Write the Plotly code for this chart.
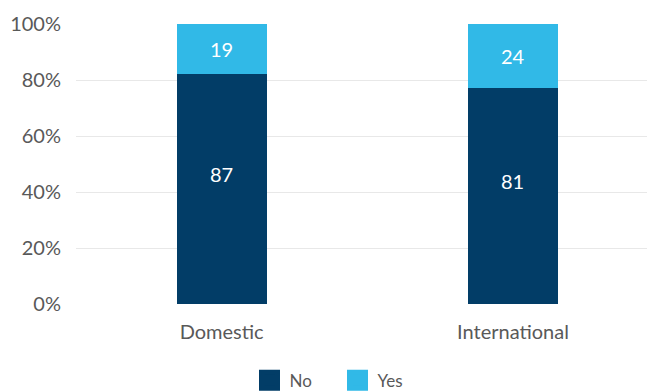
import plotly.graph_objects as go

categories = ["Domestic", "International"]
no_values = [87, 81]
yes_values = [19, 24]
y_ticks = [0, 20, 40, 60, 80, 100]
y_tick_labels = ["0%", "20%", "40%", "60%", "80%", "100%"]

NAVY = "#023d67"
SKY = "#31b9e7"
FONT = "Source Sans Pro, Lato, Noto Sans, sans-serif"

fig = go.Figure()
for name, vals, color in [("No", no_values, NAVY), ("Yes", yes_values, SKY)]:
    fig.add_trace(go.Bar(
        x=categories, y=vals, name=name, marker=dict(color=color, line=dict(width=0)),
        width=0.31, showlegend=False,
    ))
    # legend entries drawn as large squares
    fig.add_trace(go.Scatter(
        x=[None], y=[None], mode="markers", name=name,
        marker=dict(symbol="square", size=16, color=color, line=dict(color=color, width=5)),
    ))

# value labels placed inside each stacked segment (percent scale)
for i, cat in enumerate(categories):
    total = no_values[i] + yes_values[i]
    no_pct = no_values[i] / total * 100
    yes_pct = yes_values[i] / total * 100
    fig.add_annotation(x=cat, y=no_pct / 2, text=str(no_values[i]), showarrow=False,
                       yshift=15, font=dict(color="white", size=20, family=FONT))
    fig.add_annotation(x=cat, y=no_pct + yes_pct / 2, text=str(yes_values[i]), showarrow=False,
                       font=dict(color="white", size=20, family=FONT))

fig.update_layout(
    width=647, height=392,
    margin=dict(l=76, r=0, t=24, b=88, autoexpand=False),
    barmode="stack", barnorm="percent",
    plot_bgcolor="white", paper_bgcolor="white",
    font=dict(family=FONT, color="#595959"),
    xaxis=dict(range=[-0.5, 1.46], showgrid=False, showline=False, ticks="",
               tickfont=dict(size=20, color="#595959"), ticklabelstandoff=14),
    yaxis=dict(range=[0, 100], tickvals=y_ticks, ticktext=y_tick_labels,
               showgrid=True, gridcolor="#e8e8e8", gridwidth=1, zeroline=False,
               showline=False, ticks="", tickfont=dict(size=20, color="#595959"),
               ticklabelstandoff=14),
    legend=dict(orientation="h", x=0.458, xanchor="center", y=-0.21, yanchor="top",
                traceorder="normal",
                font=dict(size=17, color="#595959"), entrywidth=43, itemclick=False),
    bargap=0,
)

fig.write_html("out.html")
